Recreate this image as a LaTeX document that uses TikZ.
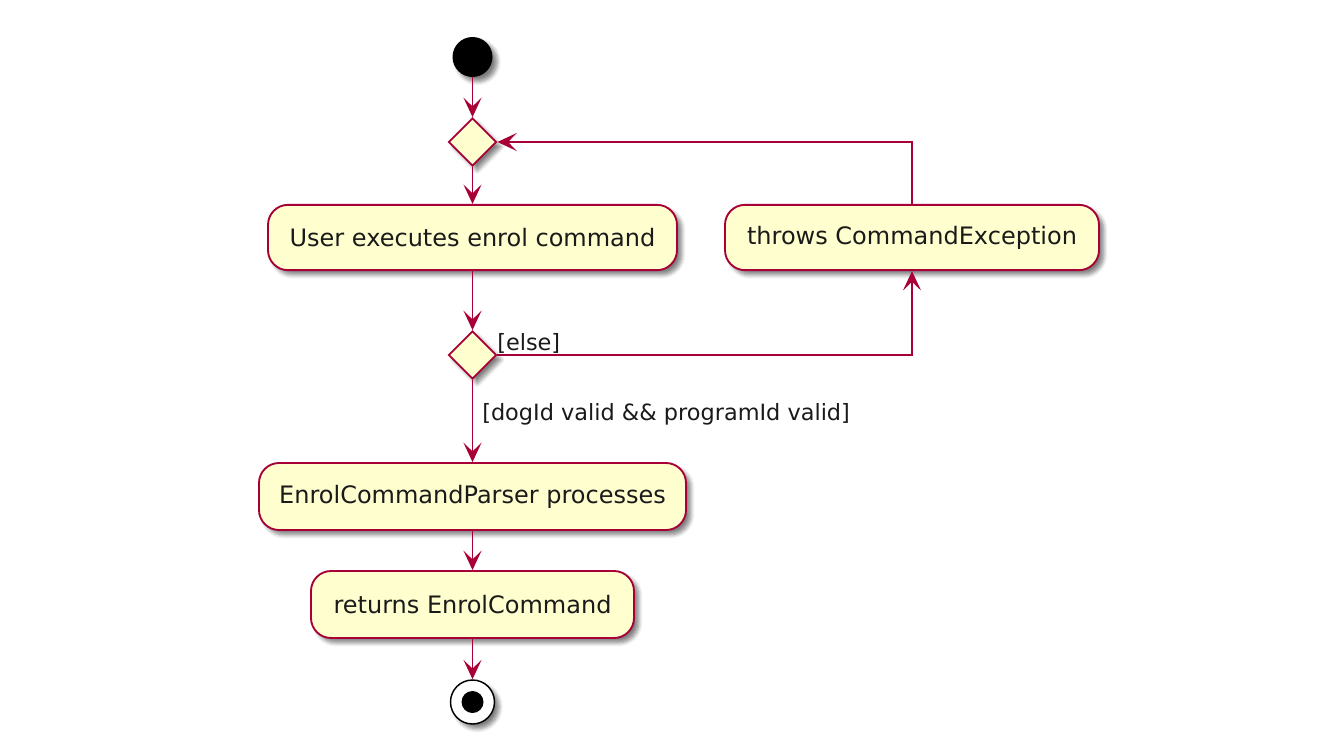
\documentclass[tikz,border=0pt]{standalone}
\usepackage{fontspec}
\setmainfont{DejaVu Sans}
\usetikzlibrary{arrows.meta,shapes.geometric,shadows.blur}
\definecolor{umlborder}{HTML}{A80036}
\definecolor{umlfill}{HTML}{FEFECE}
\definecolor{umltext}{HTML}{1A1A1A}
\tikzset{
  shade/.style={blur shadow={shadow xshift=3.5pt, shadow yshift=-3.5pt, shadow blur radius=3pt, shadow blur steps=6, shadow opacity=50}},
  action/.style={draw=umlborder, fill=umlfill, line width=1.4pt, rounded corners=15pt,
    minimum height=49pt, inner sep=0pt, font=\fontsize{18pt}{20pt}\selectfont, text=umltext, shade},
  choice/.style={draw=umlborder, fill=umlfill, line width=1.4pt, diamond, aspect=1,
    minimum width=36pt, minimum height=36pt, inner sep=0pt, shade},
  startdot/.style={circle, fill=black, minimum size=30pt, inner sep=0pt, shade},
  enddot/.style={circle, draw=black, fill=white, line width=1.1pt, minimum size=33pt, inner sep=0pt, shade},
  flow/.style={draw=umlborder, line width=1.2pt, -{Stealth[length=14.5pt, width=13.5pt, inset=6.5pt]}},
  guard/.style={font=\fontsize{16.8pt}{19pt}\selectfont, text=umltext, inner sep=0pt, anchor=west},
}
\begin{document}
\begin{tikzpicture}[x=0.75pt, y=-0.75pt]
  \useasboundingbox (0,0) rectangle (1324,754);

  % start, decisions and actions on the main column
  \node[startdot] (start) at (472.5,57) {};
  \node[choice] (loop) at (472.5,142) {};
  \node[action, minimum width=306.75pt] (enrol) at (472.5,237.5) {User executes enrol command};
  \node[action, minimum width=280.5pt] (throw) at (912,237.5) {throws CommandException};
  \node[choice] (check) at (472.5,355) {};
  \node[action, minimum width=320.25pt, minimum height=50.25pt] (parse) at (472.5,496.5) {EnrolCommandParser processes};
  \node[action, minimum width=242.25pt, minimum height=50.25pt] (ret) at (472.5,604.5) {returns EnrolCommand};
  \node[enddot] (stop) at (472.5,702) {};
  \fill[black] (stop.center) circle (8.25pt);

  % flows
  \draw[flow] (start) -- (loop.north);
  \draw[flow] (loop.south) -- (enrol.north);
  \draw[flow] (enrol.south) -- (check.north);
  \draw[flow] (check.east) -| (throw.south);
  \draw[flow] (throw.north) |- (loop.east);
  \draw[flow] (check.south) -- (parse.north);
  \draw[flow] (parse.south) -- (ret.north);
  \draw[flow] (ret.south) -- (stop.north);

  % guards
  \node[guard] (elseguard) at (497,343) {[else]};
  \node[guard] (validguard) at (482,414) {[dogId valid \&\& programId valid]};
\end{tikzpicture}
\end{document}
